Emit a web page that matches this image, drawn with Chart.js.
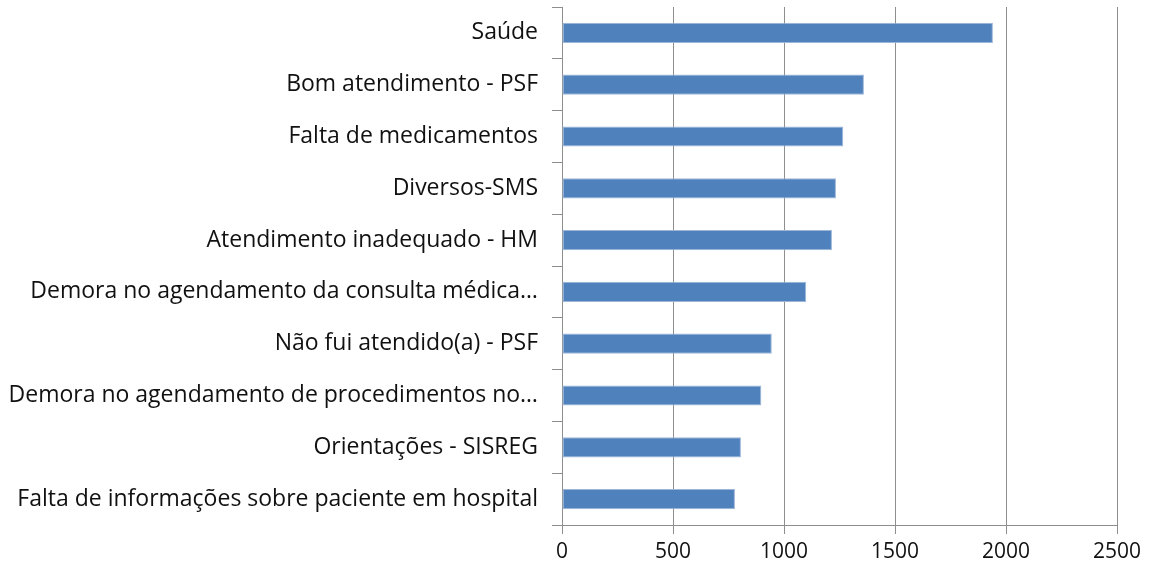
<!DOCTYPE html>
<html>
<head>
<meta charset="utf-8">
<script src="https://cdn.jsdelivr.net/npm/chart.js@4"></script>
<style>
html,body{margin:0;padding:0;background:#fff;}
#wrap{width:1151px;height:575px;position:relative;}
</style>
</head>
<body>
<div id="wrap"><canvas id="c" width="1151" height="575"></canvas></div>
<script>
const categories = [
  "Saúde",
  "Bom atendimento - PSF",
  "Falta de medicamentos",
  "Diversos-SMS",
  "Atendimento inadequado - HM",
  "Demora no agendamento da consulta médica…",
  "Não fui atendido(a) - PSF",
  "Demora no agendamento de procedimentos no…",
  "Orientações - SISREG",
  "Falta de informações sobre paciente em hospital"
];
const values = [1941, 1360, 1267, 1234, 1216, 1100, 945, 898, 806, 779];
const xTicks = [0, 500, 1000, 1500, 2000, 2500];

const FONT = "Open Sans";
const gridColor = "#8e8e8e";

new Chart(document.getElementById('c'), {
  type: 'bar',
  data: {
    labels: categories,
    datasets: [{
      data: values,
      backgroundColor: '#4F81BD',
      borderColor: '#9db6d8',
      borderWidth: 1,
      borderSkipped: false,
      categoryPercentage: 1,
      barPercentage: 0.39
    }]
  },
  options: {
    indexAxis: 'y',
    responsive: false,
    animation: false,
    devicePixelRatio: 1,
    layout: { padding: { left: 0, right: 34, top: 7, bottom: 0 } },
    plugins: { legend: { display: false }, tooltip: { enabled: false } },
    scales: {
      x: {
        min: 0, max: 2500,
        afterBuildTicks: (s) => { s.ticks = xTicks.map(v => ({ value: v })); },
        afterFit: (s) => { s.height = 50; s.paddingLeft = 0; s.paddingRight = 0; },
        grid: { color: gridColor, lineWidth: 1, tickLength: 9, drawTicks: true },
        border: { color: gridColor, width: 1 },
        ticks: { color: '#111', font: { family: FONT, size: 21 }, padding: 5, maxRotation: 0,
                 callback: (v) => String(v) }
      },
      y: {
        afterFit: (s) => { s.width = 562; s.paddingTop = 0; s.paddingBottom = 0; },
        grid: { offset: true, drawOnChartArea: false, color: gridColor, tickLength: 10 },
        border: { color: gridColor, width: 1 },
        ticks: { color: '#111', font: { family: FONT, size: 23 }, padding: 14, autoSkip: false }
      }
    }
  }
});
</script>
</body>
</html>
